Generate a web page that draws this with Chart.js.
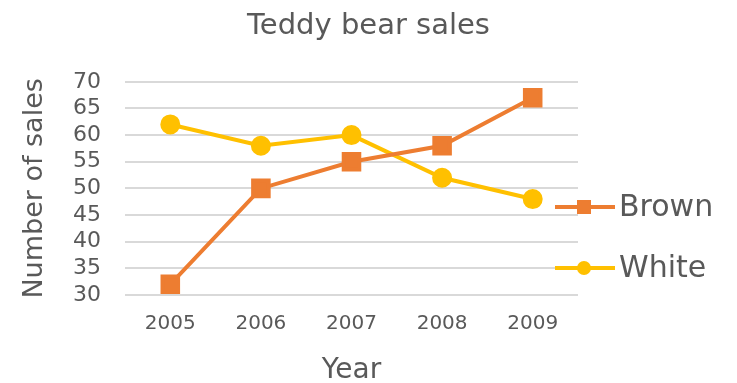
<!DOCTYPE html>
<html>
<head>
<meta charset="utf-8">
<script src="https://cdn.jsdelivr.net/npm/chart.js@4"></script>
<style>
  html, body { margin: 0; padding: 0; background: #fff; }
  #wrap { width: 737px; height: 383px; }
</style>
</head>
<body>
<div id="wrap"><canvas id="myChart"></canvas></div>
<script>
var years = ["2005", "2006", "2007", "2008", "2009"];
var brownSales = [32, 50, 55, 58, 67];
var whiteSales = [62, 58, 60, 52, 48];
var seriesNames = ["Brown", "White"];

var textGrey = "#595959";
var fontName = "DejaVu Sans";

// legend drawn to the right of the plot: line with marker, then the name
var sideLegend = {
  id: "sideLegend",
  afterDraw: function (chart, args, opts) {
    var c = chart.ctx;
    chart.data.datasets.forEach(function (ds, i) {
      var y = opts.rows[i];
      var x0 = opts.x, x1 = opts.x + 60, mx = opts.x + 29;
      c.save();
      c.strokeStyle = ds.borderColor;
      c.lineWidth = 4;
      c.beginPath();
      c.moveTo(x0, y);
      c.lineTo(x1, y);
      c.stroke();
      c.fillStyle = ds.backgroundColor;
      if (ds.pointStyle === "rect") {
        c.fillRect(mx - 7, y - 7, 14, 14);
      } else {
        c.beginPath();
        c.arc(mx, y, 7, 0, Math.PI * 2);
        c.fill();
      }
      c.fillStyle = textGrey;
      c.font = "30px " + fontName;
      c.textBaseline = "middle";
      c.fillText(ds.label, x1 + 4, y + 1);
      c.restore();
    });
  }
};

var ctx = document.getElementById("myChart");
var myChart = new Chart(ctx, {
  type: "line",
  data: {
    labels: years,
    datasets: [
      {
        label: seriesNames[0],
        data: brownSales,
        borderColor: "#ED7D31",
        backgroundColor: "#ED7D31",
        borderWidth: 4,
        pointStyle: "rect",
        pointRadius: 11,
        pointHoverRadius: 11,
        fill: false,
        tension: 0
      },
      {
        label: seriesNames[1],
        data: whiteSales,
        borderColor: "#FFC000",
        backgroundColor: "#FFC000",
        borderWidth: 4,
        pointStyle: "circle",
        pointRadius: 8,
        pointHoverRadius: 8,
        fill: false,
        tension: 0
      }
    ]
  },
  plugins: [sideLegend],
  options: {
    responsive: true,
    maintainAspectRatio: false,
    animation: false,
    layout: { padding: 0 },
    plugins: {
      legend: { display: false },
      tooltip: { enabled: false },
      title: {
        display: true,
        text: "Teddy bear sales",
        color: textGrey,
        font: { family: fontName, size: 29, weight: "normal" },
        padding: { top: 9, bottom: 38 }
      },
      sideLegend: { x: 555, rows: [207, 268] }
    },
    scales: {
      x: {
        offset: true,
        grid: { display: false, drawTicks: false },
        border: { display: false },
        ticks: {
          color: textGrey,
          font: { family: fontName, size: 20 },
          padding: 17
        },
        title: {
          display: true,
          text: "Year",
          color: textGrey,
          font: { family: fontName, size: 28, weight: "normal" },
          padding: { top: 0, bottom: -5 }
        },
        afterFit: function (scale) { scale.height = 88; }
      },
      y: {
        min: 30,
        max: 70,
        ticks: {
          stepSize: 5,
          autoSkip: false,
          color: textGrey,
          font: { family: fontName, size: 22 },
          padding: 24
        },
        grid: { color: "#d9d9d9", lineWidth: 2, drawTicks: false },
        border: { display: false },
        title: {
          display: true,
          text: "Number of sales",
          color: textGrey,
          font: { family: fontName, size: 27, weight: "normal" },
          padding: { top: 19, bottom: 0 }
        },
        afterFit: function (scale) { scale.width = 125; }
      },
      // empty right-hand axis that keeps room for the legend
      side: {
        position: "right",
        grid: { display: false, drawTicks: false },
        border: { display: false },
        ticks: { display: false },
        afterFit: function (scale) { scale.width = 159; }
      }
    }
  }
});
</script>
</body>
</html>
